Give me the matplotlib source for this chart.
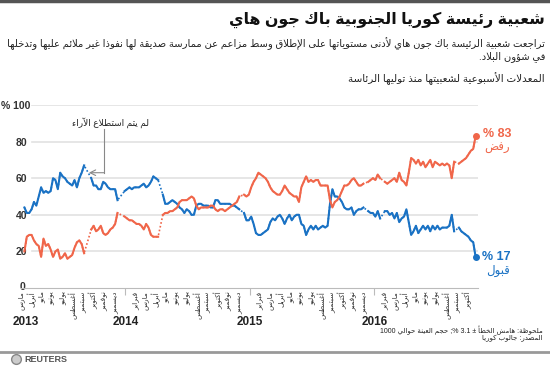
import re
import pandas as pd
import matplotlib
matplotlib.use("Agg")
import matplotlib.pyplot as plt
from matplotlib.lines import Line2D
from matplotlib.transforms import ScaledTranslation

# weekly Gallup Korea readings, None = week without a poll
first_week = "2013-03-11"
approval = [44, 41, 41, 43, 47, 45, 50, 55, 52, 53, 52, 53, 60, 59, 54, 63, 61, 60, 58, 57,
            56, 59, 55, 60, 63, 67, None, None, 60, 56, 56, 54, 54, 58, 57, 55, 54, 54, 54, 48,
            None, None, 53, 54, 55, 54, 55, 55, 55, 56, 57, 55, 56, 58, 61, 60, 59, None, 51, 46,
            46, 47, 48, 47, 46, 44, 43, 41, 43, 42, 40, 40, 45, 46, 46, 45, 45, 45, 44, 44,
            48, 48, 46, 46, 46, 46, 46, 45, 45, 44, 43, None, 41, 37, 37, 39, 35, 30, 29, 29,
            30, 31, 32, 36, 38, 37, 39, 40, 38, 35, 38, 40, 37, 39, 40, 40, 35, 34, 29, 32,
            34, 32, 34, 32, 33, 34, 33, 34, 46, 54, 50, 50, 49, 47, 44, 43, 43, 44, 40, 42,
            43, 43, 44, None, 42, 41, 41, 39, 42, 38, None, 42, 42, 40, 41, 38, 41, 36, 38, 39,
            43, 36, 29, 31, 34, 30, 32, 34, 32, 34, 31, 34, 32, 34, 32, 33, 33, 33, 34, 40,
            31, None, 33, 31, 30, 29, 28, 26, 25, 17]
disapproval = [20, 28, 29, 29, 26, 24, 23, 17, 27, 23, 24, 21, 17, 20, 21, 16, 17, 19, 16, 17,
               18, 22, 25, 26, 24, 19, None, None, 32, 34, 31, 32, 34, 30, 29, 30, 32, 33, 35, 41,
               None, None, 39, 38, 37, 37, 36, 35, 35, 34, 32, 35, 33, 29, 28, 28, 28, None, 40, 41,
               41, 42, 42, 43, 44, 47, 48, 48, 48, 49, 50, 49, 45, 43, 44, 44, 44, 44, 45, 45,
               43, 42, 43, 43, 42, 43, 44, 45, 46, 47, 50, None, 51, 50, 51, 55, 58, 60, 63, 62,
               61, 60, 58, 55, 53, 52, 51, 51, 53, 56, 54, 52, 51, 50, 50, 47, 55, 58, 61, 58,
               59, 58, 59, 59, 56, 56, 56, 56, 48, 44, 47, 48, 50, 53, 56, 56, 57, 59, 60, 58,
               56, 56, 57, None, 58, 59, 60, 59, 62, 60, None, 58, 57, 58, 59, 60, 58, 63, 59, 58,
               56, 63, 71, 70, 68, 70, 67, 69, 66, 68, 70, 66, 69, 68, 67, 68, 67, 68, 67, 60,
               69, None, 68, 69, 70, 71, 73, 75, 76, 83]
months_ar = ["يناير", "فبراير", "مارس", "أبريل", "مايو", "يونيو",
             "يوليو", "أغسطس", "سبتمبر", "أكتوبر", "نوفمبر", "ديسمبر"]
year_labels = ["2013", "2014", "2015", "2016"]
year_label_dates = ["2013-03-15", "2014-01-01", "2015-01-01", "2016-01-01"]
year_starts = ["2014-01-01", "2015-01-01", "2016-01-01"]

BLUE = "#1a72c4"
ORANGE = "#f0664a"

# latin text in an Arial-like face, arabic glyphs fall back to DejaVu
plt.rcParams["font.family"] = ["Liberation Sans", "DejaVu Sans"]

# --- minimal arabic shaping (matplotlib has no text shaping) ---
DUAL = {"\u0626": 0xFE89, "\u0628": 0xFE8F, "\u062A": 0xFE95, "\u062B": 0xFE99, "\u062C": 0xFE9D,
        "\u062D": 0xFEA1, "\u062E": 0xFEA5, "\u0633": 0xFEB1, "\u0634": 0xFEB5, "\u0635": 0xFEB9,
        "\u0636": 0xFEBD, "\u0637": 0xFEC1, "\u0638": 0xFEC5, "\u0639": 0xFEC9, "\u063A": 0xFECD,
        "\u0641": 0xFED1, "\u0642": 0xFED5, "\u0643": 0xFED9, "\u0644": 0xFEDD, "\u0645": 0xFEE1,
        "\u0646": 0xFEE5, "\u0647": 0xFEE9, "\u064A": 0xFEF1}
RIGHT = {"\u0622": 0xFE81, "\u0623": 0xFE83, "\u0624": 0xFE85, "\u0625": 0xFE87, "\u0627": 0xFE8D,
         "\u0629": 0xFE93, "\u062F": 0xFEA9, "\u0630": 0xFEAB, "\u0631": 0xFEAD, "\u0632": 0xFEAF,
         "\u0648": 0xFEED, "\u0649": 0xFEEF}
LAM_ALEF = {"\u0622": 0xFEF5, "\u0623": 0xFEF7, "\u0625": 0xFEF9, "\u0627": 0xFEFB}
JOINING = set(DUAL) | set(RIGHT)


def shape(s):
    out, i, prev = [], 0, False
    while i < len(s):
        c = s[i]
        nxt = s[i + 1] if i + 1 < len(s) else ""
        if c == "\u0644" and nxt in LAM_ALEF:
            out.append(chr(LAM_ALEF[nxt] + (1 if prev else 0)))
            prev = False
            i += 2
            continue
        if c in DUAL:
            join_next = nxt in JOINING
            base = DUAL[c]
            if prev and join_next:
                out.append(chr(base + 3))
            elif prev:
                out.append(chr(base + 1))
            elif join_next:
                out.append(chr(base + 2))
            else:
                out.append(chr(base))
            prev = join_next
        elif c in RIGHT:
            out.append(chr(RIGHT[c] + (1 if prev else 0)))
            prev = False
        elif c == "\u0621":
            out.append("\uFE80")
            prev = False
        else:
            out.append(c)
            prev = False
        i += 1
    return "".join(out)


def ar(s):
    t = shape(s)[::-1]
    return re.sub(r"[0-9A-Za-z.]+", lambda m: m.group(0)[::-1], t)


def fx(px):
    return px / 550


def fy(py):
    return 1 - py / 367


dates = pd.date_range(first_week, periods=len(approval), freq="7D")
app = pd.Series(approval, index=dates, dtype=float)
dis = pd.Series(disapproval, index=dates, dtype=float)

fig = plt.figure(figsize=(5.5, 3.67), dpi=100)
ax = fig.add_axes([fx(21), fy(288), 457 / 550, 183 / 367])

for v in [20, 40, 60, 80, 100]:
    ax.axhline(v, xmin=0.025, color="#e2e2e2", lw=1.2, zorder=0)

for s, c in ((app, BLUE), (dis, ORANGE)):
    ok = s.dropna()
    ax.plot(ok.index, ok.values, color=c, lw=1.2, ls=(0, (1, 1.3)))
    ax.plot(s.index, s.values, color=c, lw=1.5, solid_joinstyle="round")
    ax.plot(ok.index[-1], ok.values[-1], "o", color=c, ms=4, clip_on=False)

ax.set_xlim(pd.Timestamp("2013-03-01"), pd.Timestamp("2016-10-31"))
ax.set_ylim(0, 100)
for sp in ["left", "right", "top"]:
    ax.spines[sp].set_visible(False)
ax.spines["bottom"].set_color("#bbbbbb")

ax.set_yticks([0, 20, 40, 60, 80, 100])
ylabs = ax.set_yticklabels(["0", "20", "40", "60", "80", ar("100 %")], fontsize=7.5,
                           fontweight="bold", color="#333333")
ax.tick_params(axis="y", length=0, pad=-4.3)
ylabs[-1].set_transform(ylabs[-1].get_transform() + ScaledTranslation(0.035, 0, fig.dpi_scale_trans))
ylabs[0].set_transform(ylabs[0].get_transform() + ScaledTranslation(-0.02, 0.025, fig.dpi_scale_trans))

ax.set_xticks(pd.to_datetime(year_starts))
ax.set_xticklabels([])
ax.tick_params(axis="x", which="major", length=5, color="#bbbbbb")
month_dates = pd.date_range("2013-03-01", "2016-10-01", freq="MS")
ax.set_xticks(month_dates, minor=True)
ax.set_xticklabels([ar(months_ar[d.month - 1]) for d in month_dates], minor=True,
                   rotation=90, fontsize=5.3, color="#333333")
ax.tick_params(axis="x", which="minor", length=0, pad=2.5)

for lab, d in zip(year_labels, year_label_dates):
    ax.text(pd.Timestamp(d), -0.185, lab, transform=ax.get_xaxis_transform(),
            ha="center", va="center", fontsize=8.5, fontweight="bold", color="#222222")

# not-polled note
ax.text(pd.Timestamp("2013-11-17"), 90.5, ar("لم يتم استطلاع الآراء"), ha="center", va="center",
        fontsize=6.5, color="#222222")
ax.plot([pd.Timestamp("2013-10-30")] * 2, [87, 63], color="#888888", lw=0.8)
ax.annotate("", xy=(pd.Timestamp("2013-09-16"), 63), xytext=(pd.Timestamp("2013-10-30"), 63),
            arrowprops=dict(arrowstyle="->", color="#888888", lw=0.8, shrinkA=0, shrinkB=0))

# end labels
fig.text(fx(483), fy(134), ar("83 %"), ha="left", va="center", fontsize=9, fontweight="bold", color=ORANGE)
fig.text(fx(510), fy(148), ar("رفض"), ha="right", va="center", fontsize=8.5, color=ORANGE)
fig.text(fx(482), fy(257), ar("17 %"), ha="left", va="center", fontsize=9, fontweight="bold", color=BLUE)
fig.text(fx(510), fy(271), ar("قبول"), ha="right", va="center", fontsize=8.5, color=BLUE)

# titles
fig.add_artist(Line2D([0, 1], [fy(1), fy(1)], color="#555555", lw=2.5))
fig.text(fx(545), fy(20), ar("شعبية رئيسة كوريا الجنوبية باك جون هاي"), ha="right", va="center",
         fontsize=11.4, fontweight="bold", color="#111111")
fig.text(fx(545), fy(44), ar("تراجعت شعبية الرئيسة باك جون هاي لأدنى مستوياتها على الإطلاق وسط مزاعم عن ممارسة صديقة لها نفوذا غير ملائم عليها وتدخلها"),
         ha="right", va="center", fontsize=7.2, color="#222222")
fig.text(fx(545), fy(57), ar("في شؤون البلاد."), ha="right", va="center", fontsize=7.2, color="#222222")
fig.text(fx(545), fy(79), ar("المعدلات الأسبوعية لشعبيتها منذ توليها الرئاسة"), ha="right", va="center",
         fontsize=7.5, color="#222222")

# footer
fig.text(fx(543), fy(330), ar("ملحوظة: هامش الخطأ ± 3.1 %; حجم العينة حوالي 1000"), ha="right", va="center",
         fontsize=5.0, color="#222222")
fig.text(fx(543), fy(339), ar("المصدر: جالوب كوريا"), ha="right", va="center", fontsize=5.0, color="#222222")
fig.add_artist(Line2D([0, 1], [fy(352), fy(352)], color="#999999", lw=2))
fig.add_artist(Line2D([fx(16)], [fy(359)], marker="o", ms=7, mfc="#cccccc", mec="#888888", mew=1))
fig.text(fx(24), fy(359), "REUTERS", ha="left", va="center", fontsize=6.5, fontweight="bold", color="#555555")

fig.savefig("out.png", dpi=100)
